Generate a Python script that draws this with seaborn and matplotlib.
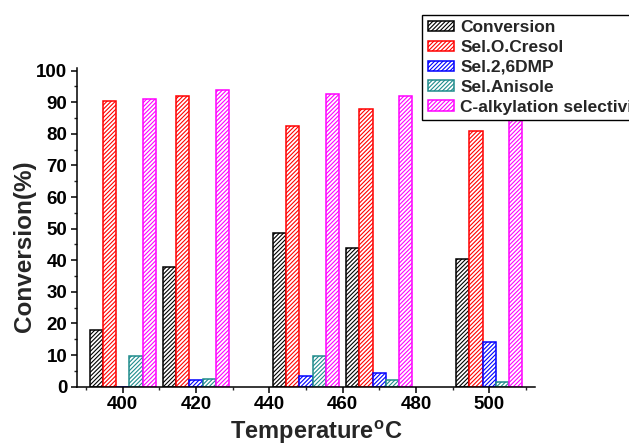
import matplotlib
matplotlib.use("Agg")
import matplotlib.pyplot as plt
import seaborn as sns
import pandas as pd
from matplotlib.ticker import MultipleLocator

# ---- data ----
temperatures = [400, 420, 450, 470, 500]
series_names = ["Conversion", "Sel.O.Cresol", "Sel.2,6DMP", "Sel.Anisole",
                "C-alkylation selectivity"]
conversion = [18.0, 37.9, 48.6, 43.8, 40.5]
sel_o_cresol = [90.4, 92.0, 82.5, 87.9, 80.9]
sel_26dmp = [0.0, 2.0, 3.3, 4.2, 14.1]
sel_anisole = [9.6, 2.3, 9.8, 2.2, 1.6]
c_alkylation = [91.0, 93.9, 92.7, 92.0, 91.0]
series_colors = ["#000000", "#FF0000", "#0000FF", "#1F8C8C", "#FF00FF"]

values = [conversion, sel_o_cresol, sel_26dmp, sel_anisole, c_alkylation]
rows = []
for name, vals in zip(series_names, values):
    for t, v in zip(temperatures, vals):
        rows.append({"Temperature": t, "Series": name, "Value": v})
df = pd.DataFrame(rows)

sns.set_style("ticks")
plt.rcParams["font.family"] = ["Liberation Sans", "DejaVu Sans"]
plt.rcParams["font.weight"] = "bold"
plt.rcParams["mathtext.fontset"] = "custom"
plt.rcParams["mathtext.rm"] = "Liberation Sans"
plt.rcParams["mathtext.bf"] = "Liberation Sans:bold"
plt.rcParams["hatch.linewidth"] = 0.8

fig = plt.figure(figsize=(6.29, 4.46), dpi=100)
ax = fig.add_axes([77 / 629, 59.3 / 446, 458 / 629, 319.2 / 446])

sns.barplot(data=df, x="Temperature", y="Value", hue="Series",
            hue_order=series_names, palette=series_colors,
            native_scale=True, width=0.9, errorbar=None, ax=ax,
            legend=False)

for cont, col in zip(ax.containers, series_colors):
    for p in cont.patches:
        p.set_facecolor("white")
        p.set_edgecolor(col)
        p.set_hatch("////////")
        p.set_linewidth(1.1)

ax.set_xlim(387.5, 512.5)
ax.set_ylim(0, 101)
ax.xaxis.set_major_locator(MultipleLocator(20))
ax.xaxis.set_minor_locator(MultipleLocator(10))
ax.yaxis.set_major_locator(MultipleLocator(10))
ax.yaxis.set_minor_locator(MultipleLocator(5))
ax.tick_params(which="major", direction="out", length=4, width=1.1,
               labelsize=13.5, pad=3, colors="black")
ax.tick_params(which="minor", direction="out", length=2.3, width=1.0)
for lab in ax.get_xticklabels() + ax.get_yticklabels():
    lab.set_fontweight("bold")

for side in ["top", "right"]:
    ax.spines[side].set_visible(False)
for side in ["left", "bottom"]:
    ax.spines[side].set_linewidth(1.1)
    ax.spines[side].set_color("black")

ax.set_xlabel(r"Temperature$^{\mathbf{o}}$C", fontsize=17, fontweight="bold")
ax.set_ylabel("Conversion(%)", fontsize=17.5, fontweight="bold")
ax.xaxis.set_label_coords(0.523, -0.163)
ax.xaxis.label.set_verticalalignment("baseline")
ax.yaxis.set_label_coords(-0.1146, 0.4408)
ax.yaxis.label.set_verticalalignment("center")

leg = ax.legend(handles=list(ax.containers), labels=series_names,
                loc="upper left", bbox_to_anchor=(422.3 / 629, 1 - 15 / 446),
                bbox_transform=fig.transFigure, prop={"weight": "bold", "size": 12.5},
                frameon=True, fancybox=False, framealpha=1, edgecolor="black",
                labelspacing=0.28, handlelength=1.55, handleheight=0.55,
                handletextpad=0.35, borderpad=0.3, borderaxespad=0)
leg.get_frame().set_linewidth(1.0)

fig.savefig("out.png", dpi=100)
